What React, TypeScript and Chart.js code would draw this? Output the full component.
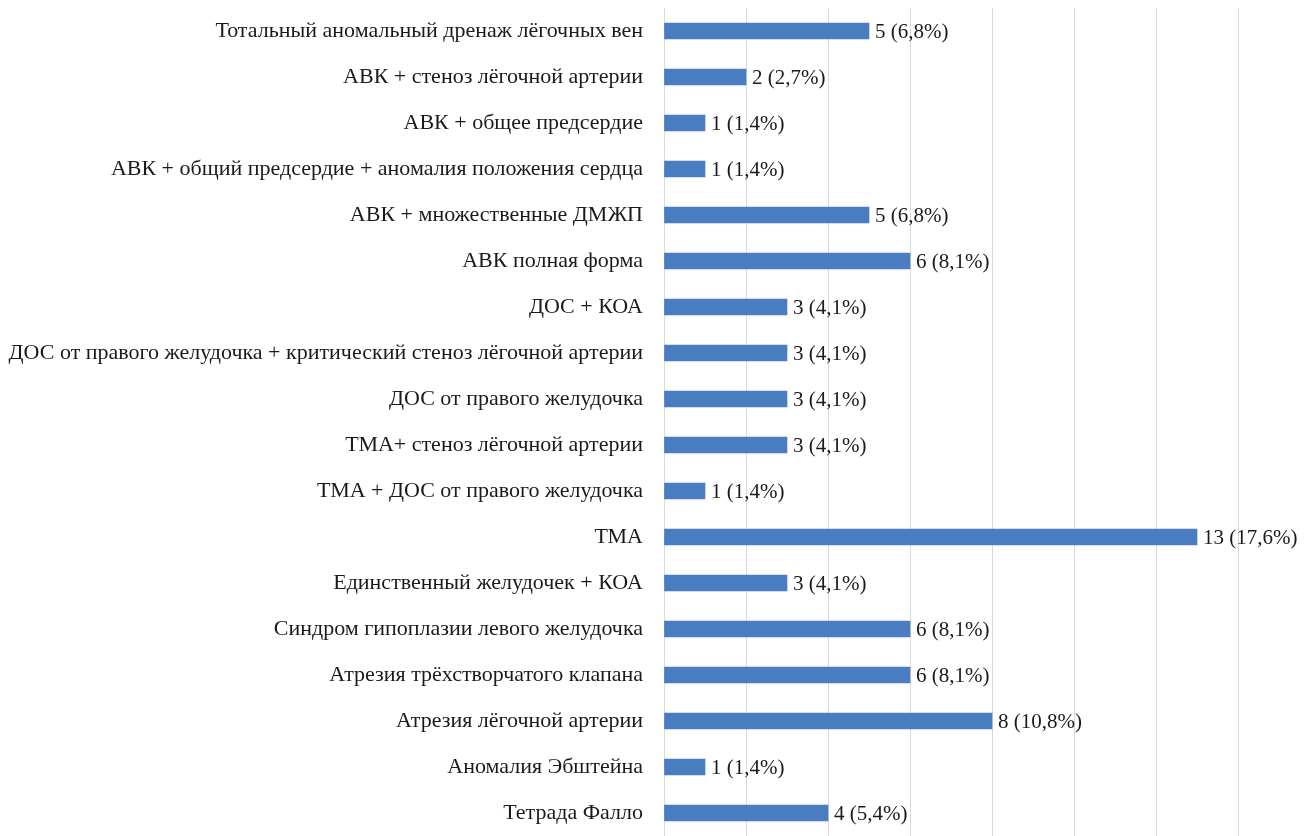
import React, { useEffect, useRef } from "react";
import { Chart, registerables } from "chart.js";

Chart.register(...registerables);

const categories: string[] = [
  "Тотальный аномальный дренаж лёгочных вен",
  "АВК + стеноз лёгочной артерии",
  "АВК + общее предсердие",
  "АВК + общий предсердие + аномалия положения сердца",
  "АВК + множественные ДМЖП",
  "АВК полная форма",
  "ДОС + КОА",
  "ДОС от правого желудочка + критический стеноз лёгочной артерии",
  "ДОС от правого желудочка",
  "ТМА+ стеноз лёгочной артерии",
  "ТМА + ДОС от правого желудочка",
  "ТМА",
  "Единственный желудочек + КОА",
  "Синдром гипоплазии левого желудочка",
  "Атрезия трёхстворчатого клапана",
  "Атрезия лёгочной артерии",
  "Аномалия Эбштейна",
  "Тетрада Фалло",
];

const counts: number[] = [5, 2, 1, 1, 5, 6, 3, 3, 3, 3, 1, 13, 3, 6, 6, 8, 1, 4];

const percents: string[] = [
  "6,8%", "2,7%", "1,4%", "1,4%", "6,8%", "8,1%", "4,1%", "4,1%", "4,1%",
  "4,1%", "1,4%", "17,6%", "4,1%", "8,1%", "8,1%", "10,8%", "1,4%", "5,4%",
];

const axisMin = 0;
const axisMax = 14;
const axisStep = 2;

const FONT = "'Liberation Serif', 'Times New Roman', serif";

const valueLabels = {
  id: "valueLabels",
  afterDatasetsDraw(chart: any) {
    const ctx = chart.ctx;
    const meta = chart.getDatasetMeta(0);
    ctx.save();
    ctx.font = `21px ${FONT}`;
    ctx.fillStyle = "#1a1a1a";
    ctx.textAlign = "left";
    ctx.textBaseline = "middle";
    meta.data.forEach((bar: any, i: number) => {
      ctx.fillText(`${counts[i]} (${percents[i]})`, bar.x + 6, bar.y + 1);
    });
    ctx.restore();
  },
};

export default function App() {
  const ref = useRef<HTMLCanvasElement | null>(null);

  useEffect(() => {
    document.body.style.margin = "0";
    document.body.style.background = "#ffffff";
    if (!ref.current) return;
    const chart = new Chart(ref.current, {
      type: "bar",
      data: {
        labels: categories,
        datasets: [
          {
            data: counts,
            backgroundColor: "#4a7cc1",
            borderWidth: 0,
            barThickness: 16,
          },
        ],
      },
      options: {
        indexAxis: "y",
        responsive: false,
        animation: false,
        layout: { padding: { top: 8, right: 69, bottom: 0, left: 0 } },
        plugins: {
          legend: { display: false },
          tooltip: { enabled: false },
        },
        scales: {
          x: {
            min: axisMin,
            max: axisMax,
            afterFit: (scale: any) => {
              scale.height = 0;
              scale.paddingLeft = 0;
              scale.paddingRight = 0;
            },
            ticks: { display: false, stepSize: axisStep },
            grid: { color: "#d9d9d9", lineWidth: 1, drawTicks: false },
            border: { display: false },
          },
          y: {
            afterFit: (scale: any) => {
              scale.width = 664;
              scale.paddingTop = 0;
              scale.paddingBottom = 0;
            },
            grid: { display: false, drawTicks: false },
            border: { display: true, color: "#d9d9d9" },
            ticks: {
              color: "#1a1a1a",
              padding: 21,
              font: { family: FONT, size: 22 },
              autoSkip: false,
            },
          },
        },
      },
      plugins: [valueLabels],
    });
    return () => chart.destroy();
  }, []);

  return (
    <div style={{ width: 1307, height: 836, position: "relative", background: "#fff" }}>
      <canvas ref={ref} width={1307} height={836} style={{ display: "block" }} />
    </div>
  );
}
